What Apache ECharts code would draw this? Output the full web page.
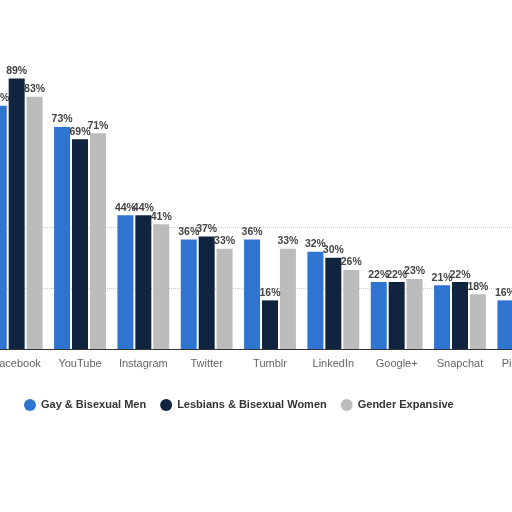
<!DOCTYPE html>
<html><head><meta charset="utf-8">
<script src="https://cdn.jsdelivr.net/npm/echarts@6/dist/echarts.min.js"></script>
<style>html,body{margin:0;padding:0;background:#fff;overflow:hidden;}#c{position:absolute;left:-15px;top:0;width:570px;height:512px;}</style>
</head><body><div id="c"></div>
<script>
const categories = ['Facebook','YouTube','Instagram','Twitter','Tumblr','LinkedIn','Google+','Snapchat','Pinterest'];
const gayBiMen = [80, 73, 44, 36, 36, 32, 22, 21, 16];
const lesbiansBiWomen = [89, 69, 44, 37, 16, 30, 22, 22, 20];
const genderExpansive = [83, 71, 41, 33, 33, 26, 23, 18, 19];
const seriesNames = ['Gay & Bisexual Men','Lesbians & Bisexual Women','Gender Expansive'];
const colors = ['#2f74d0','#10243f','#bcbcbc'];
const NONE = 'rgba(0,0,0,0)';

const chart = echarts.init(document.getElementById('c'));
const FONT = 'Liberation Sans';
const lbl = {show:true, position:'top', distance:2, formatter:'{c}%', color:'#444', fontSize:10.5, fontWeight:'bold', fontFamily:FONT};
chart.setOption({
  animation:false,
  grid:{left:0, right:0, top:45, bottom:163, containLabel:false},
  legend:{top:394, left:34, itemWidth:12, itemHeight:12, itemGap:14, icon:'circle',
    textStyle:{color:'#333', fontSize:11, fontWeight:'bold', fontFamily:FONT},
    data:seriesNames},
  xAxis:{type:'category', data:categories,
    axisLine:{lineStyle:{color:'#333', width:1}}, axisTick:{show:false},
    axisLabel:{color:'#666', fontSize:11, margin:9, interval:0, fontFamily:FONT}},
  yAxis:{type:'value', min:0, max:100, interval:20, axisLabel:{show:false}, axisLine:{show:false}, axisTick:{show:false},
    splitLine:{show:true, lineStyle:{type:'dotted', width:1, color:[NONE,'#c8c8c8','#c8c8c8',NONE,NONE,NONE]}}},
  series:[
    {name:seriesNames[0], type:'bar', data:gayBiMen, barWidth:16, barGap:'12%', itemStyle:{color:colors[0]}, label:lbl},
    {name:seriesNames[1], type:'bar', data:lesbiansBiWomen, barWidth:16, barGap:'12%', itemStyle:{color:colors[1]}, label:lbl},
    {name:seriesNames[2], type:'bar', data:genderExpansive, barWidth:16, barGap:'12%', itemStyle:{color:colors[2]}, label:lbl}
  ]
});
</script></body></html>
